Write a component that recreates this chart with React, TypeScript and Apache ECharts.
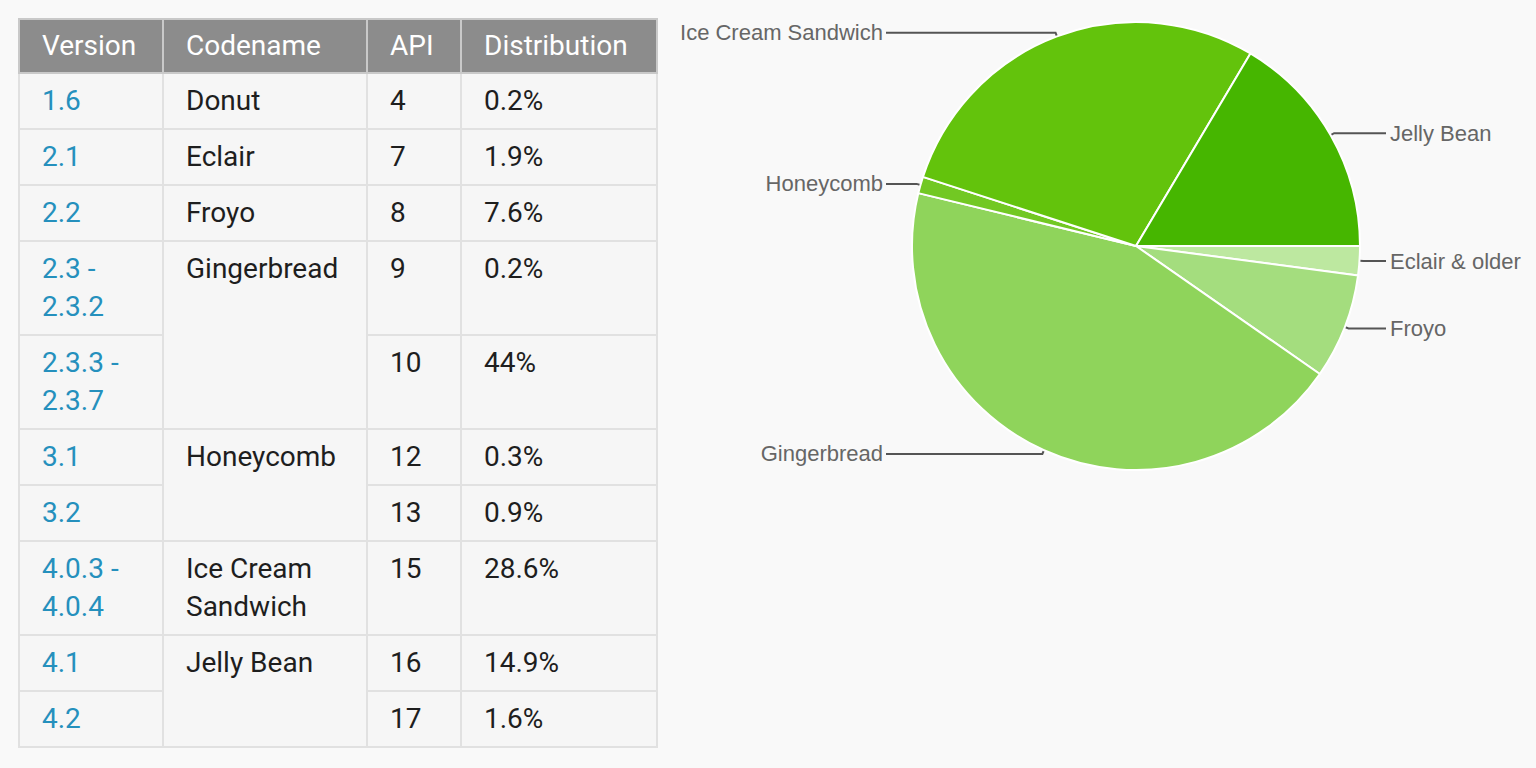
import { useEffect, useRef } from "react"
import * as echarts from "echarts"

// table rows
const versions = ["1.6", "2.1", "2.2", "2.3 -|2.3.2", "2.3.3 -|2.3.7", "3.1", "3.2", "4.0.3 -|4.0.4", "4.1", "4.2"]
const codenames = ["Donut", "Eclair", "Froyo", "Gingerbread", "", "Honeycomb", "", "Ice Cream|Sandwich", "Jelly Bean", ""]
const codenameSpans = [1, 1, 1, 2, 0, 2, 0, 1, 2, 0]
const apis = ["4", "7", "8", "9", "10", "12", "13", "15", "16", "17"]
const distributions = ["0.2%", "1.9%", "7.6%", "0.2%", "44%", "0.3%", "0.9%", "28.6%", "14.9%", "1.6%"]
const headers = ["Version", "Codename", "API", "Distribution"]

// pie slices, clockwise from 3 o'clock
const sliceNames = ["Eclair & older", "Froyo", "Gingerbread", "Honeycomb", "Ice Cream Sandwich", "Jelly Bean"]
const sliceValues = [2.1, 7.6, 44.2, 1.2, 28.6, 16.5]
const sliceColors = ["#bde8a0", "#a4dd7e", "#8fd45b", "#72c823", "#63c30c", "#46b600"]

const PIE_CX = 1136
const PIE_CY = 246
const LEFT_LINE_END = 886
const RIGHT_LINE_END = 1386

const lines = (s: string) =>
  s.split("|").map((p, i, a) => (
    <span key={i}>
      {p}
      {i < a.length - 1 && <br />}
    </span>
  ))

const cell: React.CSSProperties = {
  border: "2px solid #e1e1e1",
  padding: "8px 20px 8px 22px",
  lineHeight: "38px",
  verticalAlign: "top",
  textAlign: "left",
  whiteSpace: "nowrap",
}

export default function App() {
  const chartRef = useRef<HTMLDivElement>(null)

  useEffect(() => {
    if (!chartRef.current) return
    const chart = echarts.init(chartRef.current, null, { renderer: "svg" })
    chart.setOption({
      animation: false,
      series: [
        {
          type: "pie",
          center: [PIE_CX, PIE_CY],
          radius: 224,
          startAngle: 0,
          clockwise: true,
          avoidLabelOverlap: false,
          itemStyle: { borderColor: "#ffffff", borderWidth: 2 },
          label: {
            show: true,
            formatter: "{b}",
            fontFamily: "Liberation Sans, Arial, sans-serif",
            fontSize: 22,
            color: "#666666",
          },
          labelLine: {
            show: true,
            length: 4,
            length2: 20,
            lineStyle: { color: "#555555", width: 2 },
          },
          // keep every label in one column per side, like the original
          labelLayout: (params: any) => {
            const pts = params.labelLinePoints
            if (!pts) return {}
            const p0 = [pts[0][0], pts[0][1]]
            const p1 = [pts[1][0], pts[1][1]]
            const left = p0[0] < PIE_CX
            const endX = left ? LEFT_LINE_END : RIGHT_LINE_END
            return {
              x: left ? endX - 3 : endX + 4,
              y: p1[1],
              align: left ? "right" : "left",
              verticalAlign: "middle",
              labelLinePoints: [p0, p1, [endX, p1[1]]],
            }
          },
          emphasis: { disabled: true },
          data: sliceNames.map((n, i) => ({
            name: n,
            value: sliceValues[i],
            itemStyle: { color: sliceColors[i] },
          })),
        },
      ],
    })
    return () => chart.dispose()
  }, [])

  return (
    <div
      style={{
        position: "fixed",
        left: 0,
        top: 0,
        width: 1536,
        height: 768,
        background: "#f9f9f9",
        overflow: "hidden",
      }}
    >
      <div ref={chartRef} style={{ position: "absolute", left: 0, top: 0, width: 1536, height: 768 }} />
      <table
        style={{
          position: "absolute",
          left: 18,
          top: 18,
          width: 638,
          borderCollapse: "collapse",
          tableLayout: "fixed",
          fontFamily: "Roboto, sans-serif",
          fontSize: 28,
          color: "#1e1e1e",
          background: "#f6f6f6",
        }}
      >
        <colgroup>
          <col style={{ width: 144 }} />
          <col style={{ width: 204 }} />
          <col style={{ width: 94 }} />
          <col style={{ width: 196 }} />
        </colgroup>
        <thead>
          <tr>
            {headers.map((h) => (
              <th
                key={h}
                style={{
                  ...cell,
                  padding: "7px 20px 7px 22px",
                  background: "#8c8c8c",
                  color: "#ffffff",
                  fontWeight: 400,
                  borderColor: "#c9c9c9",
                }}
              >
                {h}
              </th>
            ))}
          </tr>
        </thead>
        <tbody>
          {versions.map((v, i) => (
            <tr key={i}>
              <td style={{ ...cell, color: "#2590bd" }}>{lines(v)}</td>
              {codenameSpans[i] > 0 && (
                <td style={cell} rowSpan={codenameSpans[i]}>
                  {lines(codenames[i])}
                </td>
              )}
              <td style={cell}>{apis[i]}</td>
              <td style={cell}>{distributions[i]}</td>
            </tr>
          ))}
        </tbody>
      </table>
    </div>
  )
}
